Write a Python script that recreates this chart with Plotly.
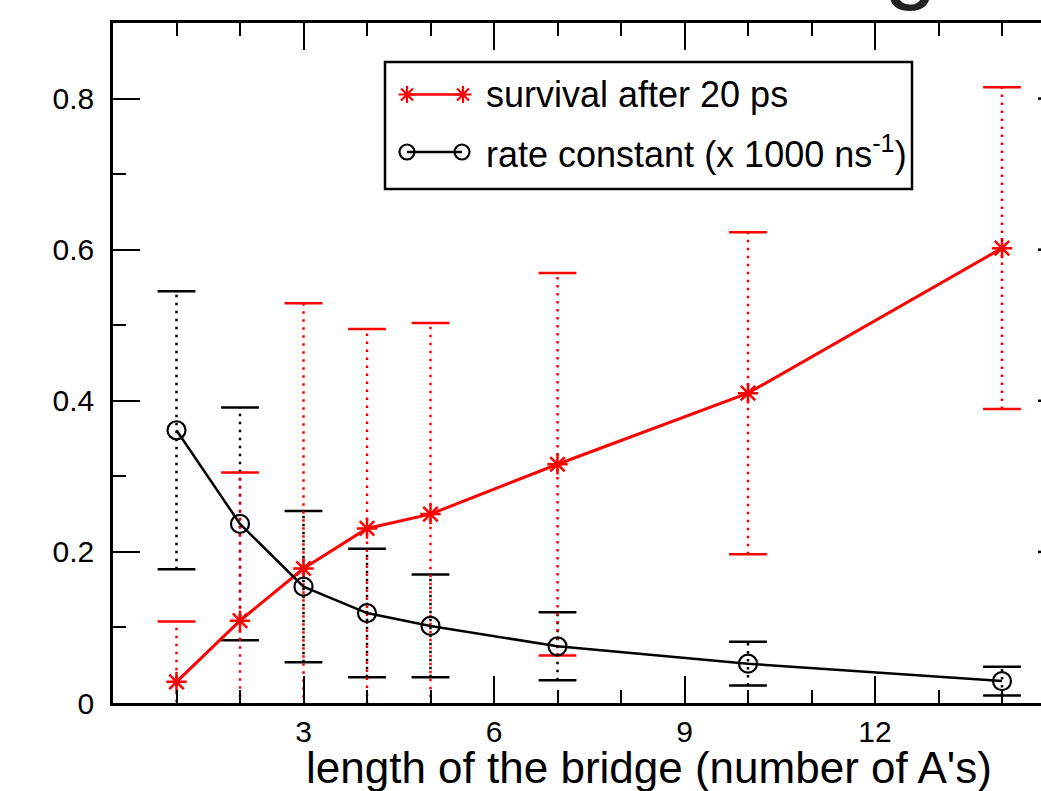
import plotly.graph_objects as go

# bridge length (number of A's)
n_a = [1, 2, 3, 4, 5, 7, 10, 14]

# survival probability after 20 ps and its uncertainty
survival = [0.028, 0.109, 0.178, 0.231, 0.250, 0.316, 0.410, 0.602]
survival_err = [0.080, 0.196, 0.351, 0.264, 0.253, 0.253, 0.213, 0.213]

# rate constant (x 1000 ns^-1) and its uncertainty
rate = [0.361, 0.237, 0.154, 0.119, 0.102, 0.075, 0.052, 0.029]
rate_err = [0.184, 0.154, 0.100, 0.085, 0.068, 0.045, 0.029, 0.019]

RED = "#ff0000"
BLACK = "#000000"
FONT = "Liberation Sans"

W, H = 1041, 791
ML, MR, MT, MB = 113, 0, 23, 88
PLOT_W, PLOT_H = W - ML - MR, H - MT - MB
X_MAX = PLOT_W / 63.5
Y_MAX = 0.9


def px_x(px):
    """Page pixel column -> paper x."""
    return (px - ML) / PLOT_W


def px_y(py):
    """Page pixel row -> paper y."""
    return (H - MB - py) / PLOT_H


def err_bar_traces(xs, ys, es, color):
    """Dotted vertical error bars with solid caps."""
    bx, by = [], []
    for x, y, e in zip(xs, ys, es):
        bx += [x, x, None]
        by += [y - e, y + e, None]
    stem = go.Scatter(x=bx, y=by, mode="lines",
                      line=dict(color=color, width=2.5, dash="2.5px,5.5px"),
                      hoverinfo="skip", showlegend=False)
    cx = list(xs) + list(xs)
    cy = [y + e for y, e in zip(ys, es)] + [y - e for y, e in zip(ys, es)]
    caps = go.Scatter(x=cx, y=cy, mode="markers",
                      marker=dict(symbol="line-ew", size=27,
                                  line=dict(color=color, width=2.5)),
                      hoverinfo="skip", showlegend=False)
    return [stem, caps]


fig = go.Figure()

for tr in err_bar_traces(n_a, rate, rate_err, BLACK):
    fig.add_trace(tr)
for tr in err_bar_traces(n_a, survival, survival_err, RED):
    fig.add_trace(tr)

fig.add_trace(go.Scatter(
    x=n_a, y=survival, mode="lines+markers", name="survival after 20 ps",
    line=dict(color=RED, width=3),
    marker=dict(symbol="asterisk", size=17, line=dict(color=RED, width=2.5)),
    showlegend=False, cliponaxis=False))

fig.add_trace(go.Scatter(
    x=n_a, y=rate, mode="lines+markers", name="rate constant",
    line=dict(color=BLACK, width=2.5),
    marker=dict(symbol="circle-open", size=18, color=BLACK,
                line=dict(color=BLACK, width=2.2)),
    showlegend=False, cliponaxis=False))

# legend samples drawn in pixel space on an overlay axis pair
fig.add_trace(go.Scatter(
    x=[407, 463], y=[94.5, 94.5], xaxis="x2", yaxis="y2", mode="lines+markers",
    line=dict(color=RED, width=2.5),
    marker=dict(symbol="asterisk", size=14, line=dict(color=RED, width=2.2)),
    showlegend=False, hoverinfo="skip", cliponaxis=False))
fig.add_trace(go.Scatter(
    x=[407, 462], y=[152, 152], xaxis="x2", yaxis="y2", mode="lines+markers",
    line=dict(color=BLACK, width=2.5),
    marker=dict(symbol="circle-open", size=15, color=BLACK,
                line=dict(color=BLACK, width=2.2)),
    showlegend=False, hoverinfo="skip", cliponaxis=False))

annotations = [
    dict(x=px_x(484), y=px_y(94.5), xref="paper", yref="paper",
         text="survival after 20 ps",
         showarrow=False, xanchor="left", yanchor="middle",
         font=dict(family=FONT, size=36, color=BLACK)),
    dict(x=px_x(484), y=px_y(152), xref="paper", yref="paper",
         text="rate constant (x 1000 ns<sup>-1</sup>)",
         showarrow=False, xanchor="left", yanchor="middle",
         font=dict(family=FONT, size=36, color=BLACK)),
    # x-axis title
    dict(x=px_x(649), y=px_y(767), xref="paper", yref="paper",
         text="length of the bridge (number of A's)",
         showarrow=False, xanchor="center", yanchor="middle",
         font=dict(family=FONT, size=44, color=BLACK)),
    # tail of the figure heading, cut by the top edge
    dict(x=px_x(910), y=px_y(13), xref="paper", yref="paper", text="g",
         showarrow=False, xanchor="center", yanchor="bottom",
         font=dict(family=FONT, size=96, color="#222222")),
]

shapes = [
    dict(type="rect", xref="x2", yref="y2", x0=385, x1=912, y0=62, y1=189,
         line=dict(color=BLACK, width=2.5), fillcolor="rgba(0,0,0,0)"),
]
# stubs of the right-hand y ticks at the edge
for yv in [0.2, 0.4, 0.6, 0.8]:
    shapes.append(dict(type="line", xref="x", yref="y",
                       x0=X_MAX - 3 / 63.5, x1=X_MAX, y0=yv, y1=yv,
                       line=dict(color=BLACK, width=2.5)))

fig.update_layout(
    width=W, height=H,
    margin=dict(l=ML, r=MR, t=MT, b=MB, pad=0),
    paper_bgcolor="white", plot_bgcolor="white",
    font=dict(family=FONT, size=30, color=BLACK),
    showlegend=False,
    xaxis=dict(
        range=[0, X_MAX], tickmode="array", tickvals=[3, 6, 9, 12],
        ticktext=["3", "6", "9", "12"],
        ticks="inside", ticklen=27, tickwidth=2.2, tickcolor=BLACK,
        minor=dict(dtick=1, tick0=0, ticks="inside", ticklen=13,
                   tickwidth=2.2, tickcolor=BLACK),
        showline=True, linecolor=BLACK, linewidth=2.5, mirror="ticks",
        showgrid=False, zeroline=False,
        tickfont=dict(family=FONT, size=30),
    ),
    yaxis=dict(
        range=[0, Y_MAX], tickmode="array",
        tickvals=[0, 0.2, 0.4, 0.6, 0.8], ticktext=["0", "0.2", "0.4", "0.6", "0.8"],
        ticks="inside", ticklen=27, tickwidth=2.2, tickcolor=BLACK,
        minor=dict(dtick=0.1, tick0=0, ticks="inside", ticklen=13,
                   tickwidth=2.2, tickcolor=BLACK),
        showline=True, linecolor=BLACK, linewidth=2.5,
        showgrid=False, zeroline=False,
        tickfont=dict(family=FONT, size=30),
        ticklabelstandoff=10,
    ),
    xaxis2=dict(overlaying="x", range=[ML, W - MR], visible=False,
                anchor="y2", fixedrange=True),
    yaxis2=dict(overlaying="y", range=[H - MB, MT], visible=False,
                anchor="x2", fixedrange=True),
    annotations=annotations,
    shapes=shapes,
)

fig.write_html("out.html")
